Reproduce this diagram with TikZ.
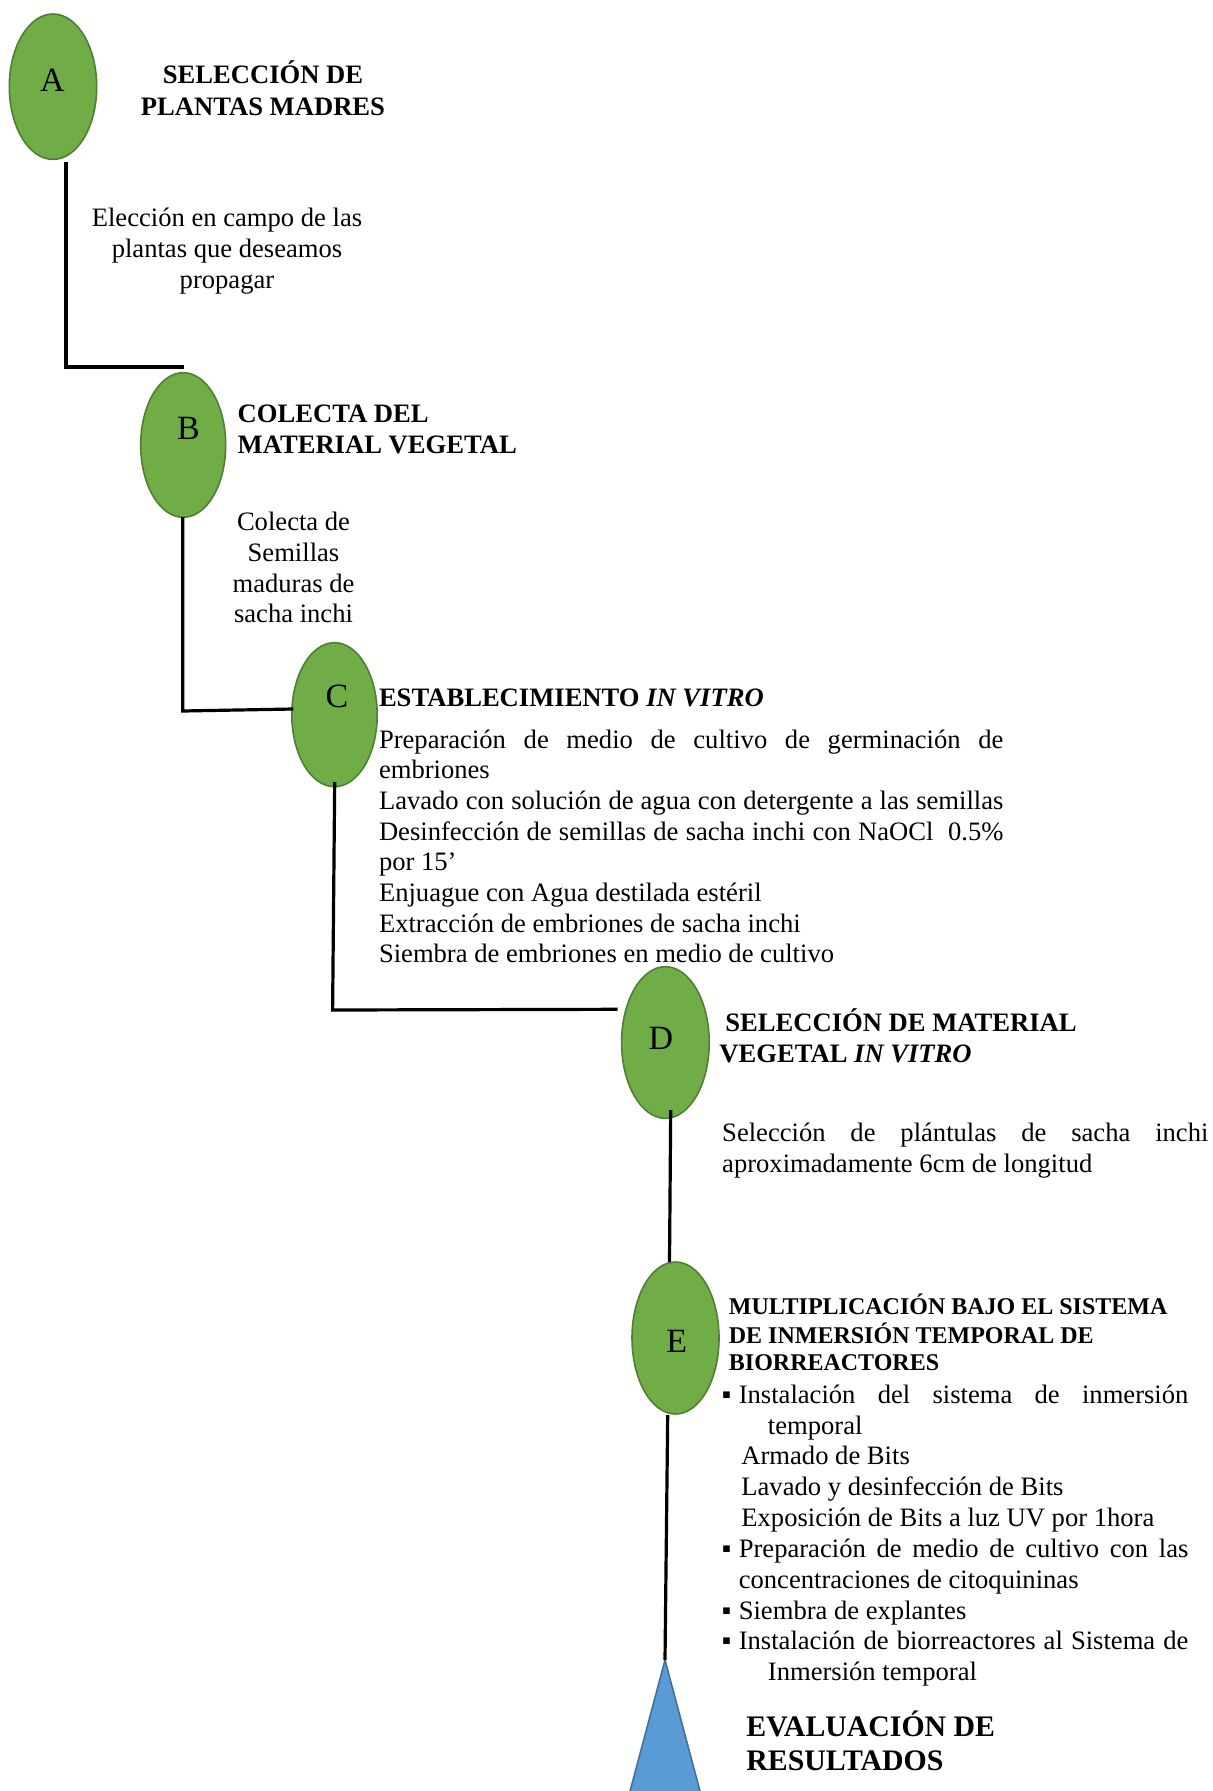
\documentclass[tikz,border=0pt]{standalone}
\usepackage{fontspec}
\setmainfont{Liberation Serif}
\usetikzlibrary{shapes.geometric}
\definecolor{gfill}{HTML}{70AD47}
\definecolor{gdraw}{HTML}{507E32}
\definecolor{bfill}{HTML}{5B9BD5}
\definecolor{bdraw}{HTML}{41719C}
\begin{document}
\begin{tikzpicture}[x=0.5pt,y=-0.5pt,
  stage/.style={ellipse, fill=gfill, draw=gdraw, line width=0.8pt, inner sep=0pt},
  letter/.style={font=\fontsize{17}{20}\selectfont, anchor=base, inner sep=0pt},
  conn/.style={line width=1.6pt, draw=black},
  ttl/.style={font=\fontsize{13.3}{15.6}\selectfont\bfseries, anchor=base west, inner sep=0pt},
  body/.style={font=\fontsize{13.3}{15.35}\selectfont, anchor=base west, inner sep=0pt},
  bul/.style={font=\fontsize{13.3}{15.35}\selectfont, anchor=base west, inner sep=0pt},
]
\useasboundingbox (0,0) rectangle (1213,1791);

% ---------- A
\node[stage, minimum width=43.7pt, minimum height=72.7pt] (A) at (53,86.7) {};
\node[letter] (Alab) at (52.5,91.7) {A};
\node[ttl, anchor=base] (Atit) at (263,84) {\begin{tabular}[t]{@{}c@{}}SELECCIÓN DE\\PLANTAS MADRES\end{tabular}};
\node[body, anchor=base] (Atxt) at (227,226.7) {\begin{tabular}[t]{@{}c@{}}Elección en campo de las\\plantas que deseamos\\propagar\end{tabular}};

% ---------- B
\node[stage, minimum width=42.5pt, minimum height=72.3pt] (B) at (183.2,445) {};
\node[letter] (Blab) at (188.5,439.3) {B};
\node[ttl] (Btit) at (237.3,422.7) {\begin{tabular}[t]{@{}l@{}}COLECTA DEL\\MATERIAL VEGETAL\end{tabular}};
\node[body, anchor=base] (Btxt) at (293.5,530.7) {\begin{tabular}[t]{@{}c@{}}Colecta de\\Semillas\\maduras de\\sacha inchi\end{tabular}};

% ---------- C
\node[stage, minimum width=42.7pt, minimum height=72pt] (C) at (334.5,714.7) {};
\node[letter] (Clab) at (337,707.7) {C};
\node[ttl] (Ctit) at (378.6,706.7) {ESTABLECIMIENTO \textit{IN VITRO}};
\node[body] (Cbody) at (378.6,748.3) {\parbox[t]{312.2pt}{\fontsize{13.3}{15.31}\selectfont
\makebox[\linewidth][s]{Preparación de medio de cultivo de germinación de}\\
embriones\\
\makebox[\linewidth][s]{Lavado con solución de agua con detergente a las semillas}\\
\makebox[\linewidth][s]{Desinfección de semillas de sacha inchi con NaOCl\ \ 0.5\%}\\
por 15’\\
Enjuague con Agua destilada estéril\\
Extracción de embriones de sacha inchi\\
Siembra de embriones en medio de cultivo}};

% ---------- D
\node[stage, minimum width=43.8pt, minimum height=75.8pt] (D) at (665.4,1042.5) {};
\node[letter] (Dlab) at (661,1049.3) {D};
\node[ttl] (Dtit1) at (725,1031.7) {SELECCIÓN DE MATERIAL};
\node[ttl] (Dtit2) at (719,1062.7) {VEGETAL \textit{IN VITRO}};
\node[body] (Dbody) at (721.8,1141.7) {\parbox[t]{243.1pt}{\fontsize{13.3}{15.3}\selectfont
\makebox[\linewidth][s]{Selección de plántulas de sacha inchi}\\
aproximadamente 6cm de longitud}};

% ---------- E
\node[stage, minimum width=43.5pt, minimum height=76pt] (E) at (675.5,1338) {};
\node[letter] (Elab) at (676.7,1352.8) {E};
\node[ttl, font=\fontsize{12}{13.7}\selectfont\bfseries] (Etit) at (728.5,1314.7) {\begin{tabular}[t]{@{}l@{}}MULTIPLICACIÓN BAJO EL SISTEMA\\DE INMERSIÓN TEMPORAL DE\\BIORREACTORES\end{tabular}};

\node[bul] (eb1) at (721.5,1403) {▪};
\node[body] (e1) at (738.4,1403) {\makebox[224.8pt][s]{Instalación del sistema de inmersión}};
\node[body] (e2) at (767.5,1434) {temporal};
\node[body] (e3) at (741,1464.5) {Armado de Bits};
\node[body] (e4) at (741,1495.5) {Lavado y desinfección de Bits};
\node[body] (e5) at (741,1526) {Exposición de Bits a luz UV por 1hora};
\node[bul] (eb2) at (721.5,1557) {▪};
\node[body] (e6) at (738.4,1557) {\makebox[224.8pt][s]{Preparación de medio de cultivo con las}};
\node[body] (e7) at (738.4,1588) {concentraciones de citoquininas};
\node[bul] (eb3) at (721.5,1619) {▪};
\node[body] (e8) at (738.4,1619) {Siembra de explantes};
\node[bul] (eb4) at (721.5,1649.5) {▪};
\node[body] (e9) at (738.4,1649.5) {\makebox[224.8pt][s]{Instalación de biorreactores al Sistema de}};
\node[body] (e10) at (767.5,1680) {Inmersión temporal};

% ---------- final
\node[ttl, font=\fontsize{14.9}{16.65}\selectfont\bfseries] (Ftit) at (746,1736.7) {\begin{tabular}[t]{@{}l@{}}EVALUACIÓN DE\\RESULTADOS\end{tabular}};
\coordinate (T) at (665,1660);
\coordinate (TL) at (601,1900);
\coordinate (TR) at (729,1900);
\begin{scope}
\clip (0,0) rectangle (1213,1791);
\draw[fill=bfill, draw=bdraw, line width=0.8pt] (T) -- (TL) -- (TR) -- cycle;
\end{scope}

% ---------- connectors
\coordinate (a1) at (66,161.7);
\coordinate (a2) at (66,367);
\coordinate (a3) at (184,367);
\draw[conn] (a1) -- (a2) -- (a3);
\coordinate (b1) at (182.7,517);
\coordinate (b2) at (182.7,711);
\coordinate (b3) at (293.3,709);
\draw[conn] (b1) -- (b2) -- (b3);
\coordinate (c1) at (334.7,782);
\coordinate (c2) at (332.6,1010);
\coordinate (c3) at (617.7,1009.3);
\draw[conn] (c1) -- (c2) -- (c3);
\coordinate (d1) at (670.7,1110);
\coordinate (d2) at (669.5,1262);
\draw[conn] (d1) -- (d2);
\coordinate (e0) at (667.7,1415);
\draw[conn] (e0) -- (T);
\end{tikzpicture}
\end{document}
